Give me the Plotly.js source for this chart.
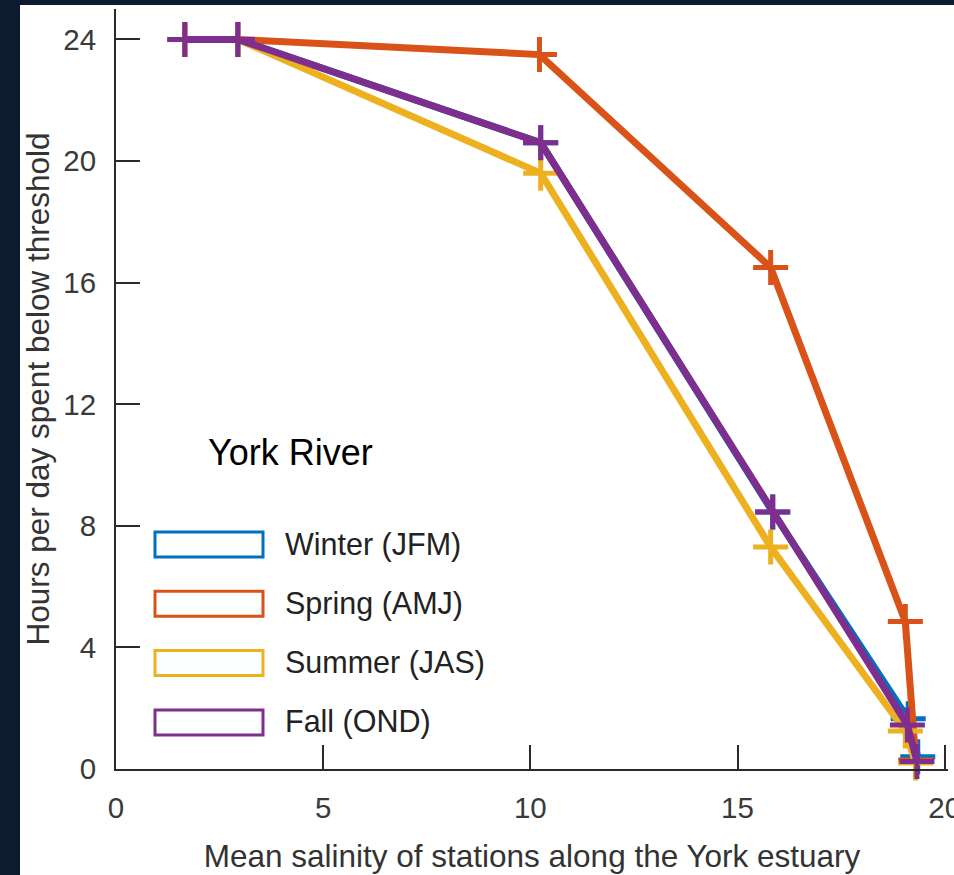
<!DOCTYPE html>
<html>
<head>
<meta charset="utf-8">
<script src="https://cdn.plot.ly/plotly-3.0.1.min.js"></script>
<style>
  html, body { margin: 0; padding: 0; background: #0c1b2f; width: 954px; height: 875px; overflow: hidden; }
  #chart { position: absolute; left: 20px; top: 5px; width: 934px; height: 870px; background: #ffffff; }
</style>
</head>
<body>
<div id="chart"></div>
<script>
// ---- data ----
const seriesNames = ['Winter (JFM)', 'Spring (AMJ)', 'Summer (JAS)', 'Fall (OND)'];
const seriesColors = ['#0072BD', '#D95319', '#EDB120', '#7E2F8E'];

const winterX = [1.66, 2.94, 10.25, 15.85, 19.12, 19.35];
const winterY = [24, 24, 20.6, 8.45, 1.65, 0.4];

const springX = [1.66, 2.94, 10.22, 15.8, 19.05, 19.3];
const springY = [24, 24, 23.5, 16.5, 4.85, 0.3];

const summerX = [1.66, 2.94, 10.25, 15.8, 19.05, 19.3];
const summerY = [24, 24, 19.6, 7.3, 1.25, 0.2];

const fallX = [1.66, 2.94, 10.25, 15.85, 19.1, 19.33];
const fallY = [24, 24, 20.6, 8.45, 1.45, 0.25];

const xTicks = [0, 5, 10, 15, 20];
const yTicks = [0, 4, 8, 12, 16, 20, 24];
const xTitle = 'Mean salinity of stations along the York estuary';
const yTitle = 'Hours per day spent below threshold';
const panelLabel = 'York River';

// ---- layout helpers (page pixels -> paper fractions) ----
const DIV_LEFT = 20, DIV_TOP = 5, W = 934, H = 870;
const M = {l: 96, r: 6, t: 4, b: 106};
const plotW = W - M.l - M.r, plotH = H - M.t - M.b;
function px(pageX) { return (pageX - DIV_LEFT - M.l) / plotW; }
function py(pageY) { return (H - M.b - (pageY - DIV_TOP)) / plotH; }

const xs = [winterX, springX, summerX, fallX];
const ys = [winterY, springY, summerY, fallY];

const traces = seriesNames.map((name, i) => ({
  type: 'scatter',
  mode: 'lines+markers',
  name: name,
  x: xs[i],
  y: ys[i],
  line: {color: seriesColors[i], width: 7},
  marker: {symbol: 'cross-thin', size: 25, color: seriesColors[i],
           line: {color: seriesColors[i], width: 5}},
  showlegend: false,
  cliponaxis: false
}));

// custom legend: outlined boxes + labels
const FONT = 'Liberation Sans, Arial, sans-serif';
const shapes = [];
const annotations = [];
seriesNames.forEach((name, i) => {
  const top = 532 + i * 59.3;
  shapes.push({
    type: 'rect', xref: 'paper', yref: 'paper',
    x0: px(155), x1: px(263), y0: py(top), y1: py(top + 25),
    line: {color: seriesColors[i], width: 3},
    fillcolor: '#fdfefe', layer: 'above'
  });
  annotations.push({
    xref: 'paper', yref: 'paper', x: px(283), y: py(top + 12),
    xanchor: 'left', yanchor: 'middle', showarrow: false,
    text: name, font: {family: FONT, size: 30.5, color: '#222'}
  });
});
annotations.push({
  xref: 'paper', yref: 'paper', x: px(206), y: py(452),
  xanchor: 'left', yanchor: 'middle', showarrow: false,
  text: panelLabel, font: {family: FONT, size: 36, color: '#000'}
});

const axisCommon = {
  showline: true, linecolor: '#2a2a2a', linewidth: 2,
  ticks: 'inside', ticklen: 24, tickwidth: 2, tickcolor: '#2a2a2a',
  showgrid: false, zeroline: false, automargin: false,
  tickfont: {family: FONT, size: 29.5, color: '#3a3a3a'},
  tickmode: 'array', ticklabeloverflow: 'allow'
};

const layout = {
  width: W, height: H,
  margin: M,
  paper_bgcolor: '#ffffff', plot_bgcolor: '#ffffff',
  showlegend: false,
  xaxis: Object.assign({}, axisCommon, {
    range: [0, 20.08], tickvals: xTicks, ticktext: xTicks.map(String),
    ticklabelstandoff: 12,
    title: {text: xTitle, standoff: 22,
            font: {family: FONT, size: 31.5, color: '#333'}}
  }),
  yaxis: Object.assign({}, axisCommon, {
    range: [0, 25], tickvals: yTicks, ticktext: yTicks.map(String),
    ticklabelstandoff: 12,
    title: {text: yTitle, standoff: 6,
            font: {family: FONT, size: 31.5, color: '#333'}}
  }),
  shapes: shapes,
  annotations: annotations
};

Plotly.newPlot('chart', traces, layout, {displayModeBar: false, staticPlot: true});
</script>
</body>
</html>
